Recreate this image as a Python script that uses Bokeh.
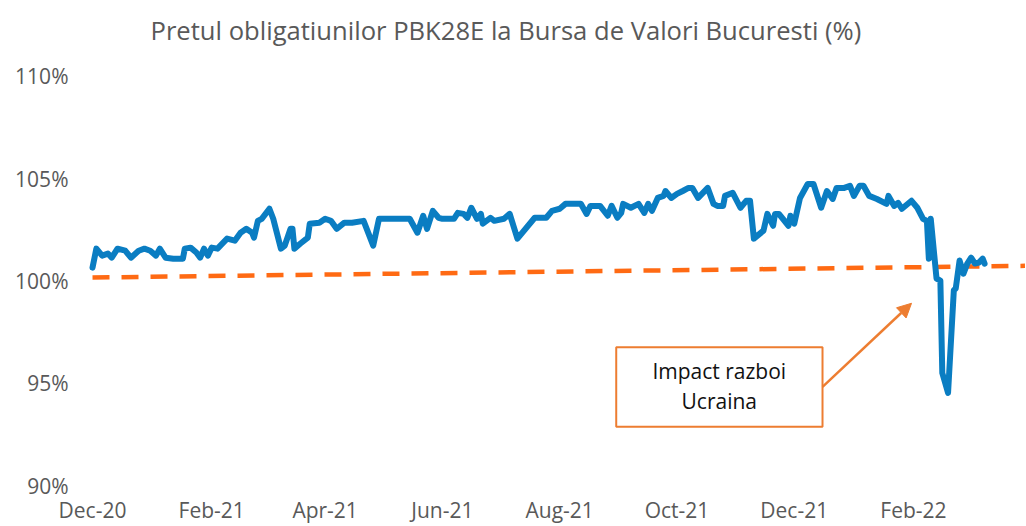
import pandas as pd
from datetime import datetime, timedelta
from bokeh.plotting import figure
from bokeh.models import (Range1d, FixedTicker, MonthsTicker, DatetimeTickFormatter,
                          PrintfTickFormatter, BoxAnnotation, Label, Arrow, NormalHead)
from bokeh.embed import file_html
from bokeh.resources import INLINE

# ---------------- data ----------------
price_dates = [
    "2020-12-01", "2020-12-03", "2020-12-06", "2020-12-09", "2020-12-11", "2020-12-14",
    "2020-12-18", "2020-12-21", "2020-12-25", "2020-12-28", "2020-12-31", "2021-01-03",
    "2021-01-05", "2021-01-08", "2021-01-12", "2021-01-17", "2021-01-18", "2021-01-21",
    "2021-01-24", "2021-01-26", "2021-01-28", "2021-01-30", "2021-02-01", "2021-02-04",
    "2021-02-09", "2021-02-13", "2021-02-16", "2021-02-19", "2021-02-22", "2021-02-23",
    "2021-02-25", "2021-02-27", "2021-03-01", "2021-03-03", "2021-03-05", "2021-03-09",
    "2021-03-11", "2021-03-14", "2021-03-15", "2021-03-16", "2021-03-19", "2021-03-23",
    "2021-03-24", "2021-03-29", "2021-04-01", "2021-04-04", "2021-04-07", "2021-04-11",
    "2021-04-15", "2021-04-21", "2021-04-26", "2021-04-29", "2021-05-15", "2021-05-19",
    "2021-05-22", "2021-05-24", "2021-05-27", "2021-05-30", "2021-06-01", "2021-06-07",
    "2021-06-09", "2021-06-12", "2021-06-14", "2021-06-16", "2021-06-19", "2021-06-21",
    "2021-06-22", "2021-06-26", "2021-06-28", "2021-07-03", "2021-07-06", "2021-07-10",
    "2021-07-19", "2021-07-25", "2021-07-28", "2021-08-01", "2021-08-04", "2021-08-12",
    "2021-08-15", "2021-08-17", "2021-08-22", "2021-08-26", "2021-08-28", "2021-08-31",
    "2021-09-02", "2021-09-03", "2021-09-07", "2021-09-11", "2021-09-14", "2021-09-16",
    "2021-09-18", "2021-09-21", "2021-09-24", "2021-09-25", "2021-09-28", "2021-10-01",
    "2021-10-04", "2021-10-07", "2021-10-09", "2021-10-12", "2021-10-17", "2021-10-20",
    "2021-10-22", "2021-10-25", "2021-10-26", "2021-10-30", "2021-11-03", "2021-11-06",
    "2021-11-08", "2021-11-10", "2021-11-15", "2021-11-17", "2021-11-20", "2021-11-21",
    "2021-11-23", "2021-11-28", "2021-11-29", "2021-12-01", "2021-12-04", "2021-12-08",
    "2021-12-11", "2021-12-15", "2021-12-18", "2021-12-21", "2021-12-23", "2021-12-27",
    "2021-12-30", "2022-01-01", "2022-01-04", "2022-01-06", "2022-01-09", "2022-01-13",
    "2022-01-18", "2022-01-19", "2022-01-22", "2022-01-24", "2022-01-26", "2022-01-31",
    "2022-02-03", "2022-02-06", "2022-02-08", "2022-02-09", "2022-02-10", "2022-02-13",
    "2022-02-15", "2022-02-16", "2022-02-19", "2022-02-22", "2022-02-23", "2022-02-25",
    "2022-02-27", "2022-03-01", "2022-03-03", "2022-03-05", "2022-03-07", "2022-03-09",
    "2022-03-10",
]
price_values = [
    100.65, 101.58, 101.24, 101.34, 101.14, 101.58,
    101.48, 101.14, 101.48, 101.58, 101.48, 101.24,
    101.58, 101.14, 101.09, 101.09, 101.58, 101.63,
    101.39, 101.14, 101.58, 101.24, 101.63, 101.58,
    102.07, 101.97, 102.36, 102.55, 102.36, 102.12,
    102.94, 103.04, 103.28, 103.53, 103.04, 101.58,
    101.73, 102.55, 102.55, 101.58, 101.82, 102.12,
    102.80, 102.85, 103.04, 102.94, 102.55, 102.85,
    102.85, 102.94, 101.73, 103.04, 103.04, 102.36,
    103.19, 102.55, 103.43, 103.09, 103.04, 103.04,
    103.33, 103.28, 103.09, 103.58, 103.04, 103.28,
    102.80, 103.09, 102.94, 103.04, 103.28, 102.07,
    103.09, 103.09, 103.43, 103.53, 103.77, 103.77,
    103.28, 103.67, 103.67, 103.19, 103.67, 103.09,
    103.33, 103.77, 103.58, 103.77, 103.33, 103.77,
    103.43, 104.06, 104.16, 104.40, 104.06, 104.26,
    104.40, 104.55, 104.55, 104.06, 104.55, 103.77,
    103.67, 103.67, 104.16, 104.31, 103.58, 103.92,
    103.92, 102.07, 102.46, 103.28, 102.70, 103.28,
    103.28, 102.70, 103.19, 102.80, 104.06, 104.74,
    104.74, 103.58, 104.40, 104.01, 104.55, 104.55,
    104.65, 104.16, 104.65, 104.65, 104.16, 104.01,
    103.77, 104.16, 103.67, 103.82, 103.53, 103.92,
    103.58, 103.04, 102.94, 101.09, 103.04, 100.12,
    100.02, 95.50, 94.53, 99.54, 99.64, 101.00,
    100.36, 100.85, 101.14, 100.85, 100.90, 101.09,
    100.85,
]
trend_dates = ["2020-12-01", "2022-03-31"]
trend_values = [100.17, 100.74]

y_ticks = [90, 95, 100, 105, 110]
title_text = "Pretul obligatiunilor PBK28E la Bursa de Valori Bucuresti (%)"
note_lines = ["Impact razboi", "Ucraina"]

# ---------------- figure ----------------
FONT = "Open Sans"
GREY = "#595959"
BLUE = "#0A7DC2"
ORANGE_DASH = "#FF6A13"
ORANGE_NOTE = "#ED7D31"

base = datetime(2020, 12, 1)
x_start = base - timedelta(days=6.25)
x_end = base + timedelta(days=485.8)

p = figure(width=1026, height=526, output_backend="svg", toolbar_location=None,
           x_axis_type="datetime",
           x_range=Range1d(x_start, x_end),
           y_range=Range1d(89.61, 110.73),
           min_border_left=80, min_border_right=0, min_border_top=60,
           min_border_bottom=29)
p.outline_line_color = None
p.xgrid.visible = False
p.ygrid.visible = False
p.background_fill_color = "white"
p.border_fill_color = "white"

p.title.text = title_text
p.title.text_font = FONT
p.title.text_font_size = "25.6px"
p.title.text_font_style = "normal"
p.title.text_color = GREY
p.title.align = "left"
p.title.vertical_align = "top"
p.title.offset = 70
p.title.standoff = 24

xa = p.xaxis[0]
xa.ticker = MonthsTicker(months=[1, 3, 5, 7, 9, 11])
xa.formatter = DatetimeTickFormatter(months="%b-%y", days="%b-%y", years="%b-%y")
xa.axis_line_color = None
xa.major_tick_line_color = None
xa.minor_tick_line_color = None
xa.major_tick_out = 0
xa.major_tick_in = 0
xa.major_label_standoff = 2
xa.major_label_text_font = FONT
xa.major_label_text_font_size = "21px"
xa.major_label_text_color = GREY

ya = p.yaxis[0]
ya.ticker = FixedTicker(ticks=y_ticks)
ya.formatter = PrintfTickFormatter(format="%d%%")
ya.axis_line_color = None
ya.major_tick_line_color = None
ya.minor_tick_line_color = None
ya.major_tick_out = 0
ya.major_tick_in = 0
ya.major_label_standoff = 12
ya.major_label_text_font = FONT
ya.major_label_text_font_size = "21px"
ya.major_label_text_color = GREY

p.line(pd.to_datetime(trend_dates), trend_values, line_color=ORANGE_DASH,
       line_width=4.5, line_dash="17 12")
p.line(pd.to_datetime(price_dates), price_values, line_color=BLUE, line_width=6,
       line_join="round", line_cap="round")

# annotation box with arrow
box_left = base + timedelta(days=272.4)
box_right = base + timedelta(days=379.7)
p.add_layout(BoxAnnotation(left=box_left, right=box_right, top=96.76, bottom=92.87,
                           fill_color="white", fill_alpha=1.0,
                           line_color=ORANGE_NOTE, line_width=2, line_alpha=1.0))
mid = base + timedelta(days=326)
p.add_layout(Label(x=mid, y=95.6, text=note_lines[0], text_align="center",
                   text_baseline="middle", text_font=FONT, text_font_size="21px",
                   text_color="#111111"))
p.add_layout(Label(x=mid, y=94.15, text=note_lines[1], text_align="center",
                   text_baseline="middle", text_font=FONT, text_font_size="21px",
                   text_color="#111111"))
p.add_layout(Arrow(end=NormalHead(size=14, fill_color=ORANGE_NOTE, line_color=ORANGE_NOTE),
                   x_start=box_right, y_start=94.82,
                   x_end=base + timedelta(days=426), y_end=98.91,
                   line_color=ORANGE_NOTE, line_width=2.5))

open("out.html", "w").write(file_html(p, INLINE))
